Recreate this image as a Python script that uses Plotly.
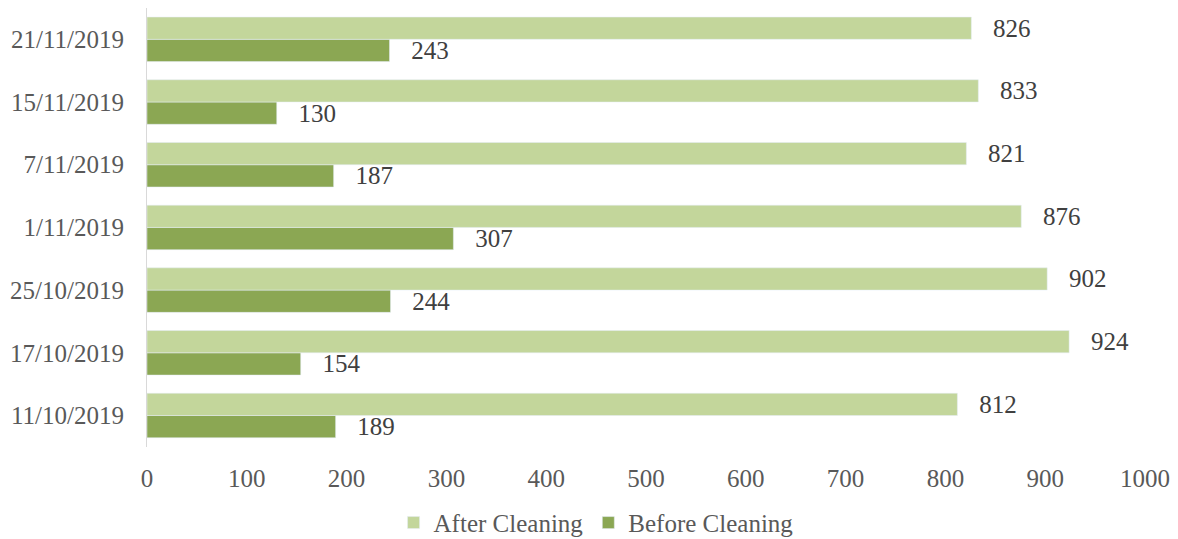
import plotly.graph_objects as go

dates = ["11/10/2019", "17/10/2019", "25/10/2019", "1/11/2019", "7/11/2019", "15/11/2019", "21/11/2019"]
after_cleaning = [812, 924, 902, 876, 821, 833, 826]
before_cleaning = [189, 154, 244, 307, 187, 130, 243]

font_family = "Liberation Serif, Times New Roman, serif"
text_color = "#595959"
fs = 25

fig = go.Figure()
fig.add_trace(go.Bar(
    y=dates, x=before_cleaning, orientation="h", name="Before Cleaning",
    marker=dict(color="#8BA753"),
    text=["   " + str(v) for v in before_cleaning], textposition="outside",
    textfont=dict(family=font_family, size=fs, color="#404040"),
    constraintext="none", cliponaxis=False, legendrank=2,
))
fig.add_trace(go.Bar(
    y=dates, x=after_cleaning, orientation="h", name="After Cleaning",
    marker=dict(color="#C3D69B"),
    text=["   " + str(v) for v in after_cleaning], textposition="outside",
    textfont=dict(family=font_family, size=fs, color="#404040"),
    constraintext="none", cliponaxis=False, legendrank=1,
))

fig.update_layout(
    width=1178, height=539,
    margin=dict(l=147, r=28, t=8, b=87),
    barmode="group", bargap=0.29, bargroupgap=0,
    plot_bgcolor="white", paper_bgcolor="white",
    font=dict(family=font_family, size=fs, color=text_color),
    uniformtext=dict(mode=False),
    legend=dict(orientation="h", xref="container", x=0.506, xanchor="center",
                yref="container", y=0.03, yanchor="middle",
                font=dict(size=fs, color=text_color), itemwidth=30),
    xaxis=dict(range=[0, 1000], dtick=100, showgrid=False, zeroline=False,
               showline=False, ticks="", ticklabelstandoff=14,
               tickfont=dict(size=fs, color=text_color)),
    yaxis=dict(type="category", categoryorder="array", categoryarray=dates,
               showgrid=False, zeroline=False, showline=True, linecolor="#d9d9d9",
               linewidth=1, ticks="", ticklabelstandoff=17,
               tickfont=dict(size=fs, color=text_color)),
)

fig.write_html("out.html")
